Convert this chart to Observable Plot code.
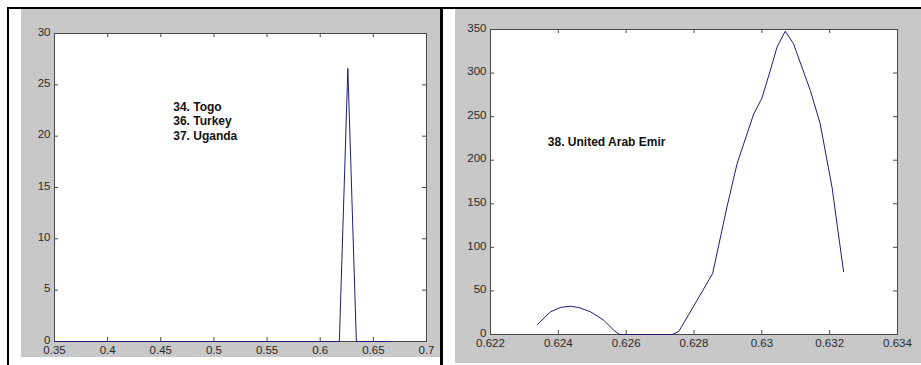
<!DOCTYPE html>
<html>
<head>
<meta charset="utf-8">
<script src="https://cdn.jsdelivr.net/npm/d3@7"></script>
<script src="https://cdn.jsdelivr.net/npm/@observablehq/plot@0.6"></script>
<style>
  html, body { margin: 0; padding: 0; background: #ffffff; }
  #page { position: relative; width: 921px; height: 365px; overflow: hidden; background: #ffffff; }
  .bar { position: absolute; background: #000000; }
  .panel { position: absolute; background: #c8c8c8; }
  .panel svg { display: block; background: #c8c8c8; }
</style>
</head>
<body>
<div id="page">
  <div class="bar" style="left:7px; top:7px; width:914px; height:2px;"></div>
  <div class="bar" style="left:7px; top:7px; width:2px; height:358px;"></div>
  <div class="bar" style="left:440px; top:7px; width:3px; height:358px;"></div>
  <div class="panel" id="left" style="left:21px; top:9px; width:419px; height:348px;"></div>
  <div class="panel" id="right" style="left:455px; top:9px; width:466px; height:354px;"></div>
</div>
<script>
// ---- Left panel data ----
const leftX = [0.35, 0.618, 0.626, 0.634, 0.666];
const leftY = [0, 0, 26.6, 0, 0];
const leftXTicks = [0.35, 0.4, 0.45, 0.5, 0.55, 0.6, 0.65, 0.7];
const leftXTickLabels = ["0.35", "0.4", "0.45", "0.5", "0.55", "0.6", "0.65", "0.7"];
const leftYTicks = [0, 5, 10, 15, 20, 25, 30];
const leftYTickLabels = ["0", "5", "10", "15", "20", "25", "30"];
const leftNotes = ["34. Togo", "36. Turkey", "37. Uganda"];
const leftNoteX = [0.4617, 0.4617, 0.4617];
const leftNoteY = [22.8, 21.43, 20.04];

// ---- Right panel data ----
const rightX = [0.62339, 0.62377, 0.62406, 0.62435, 0.62460, 0.62495, 0.62534, 0.62563, 0.62581,
                0.62736, 0.62755, 0.62799, 0.62855, 0.62897, 0.62927, 0.62976, 0.63000, 0.63025,
                0.63045, 0.63069, 0.63093, 0.63143, 0.63172, 0.63207, 0.63241];
const rightY = [11.8, 26, 31, 32.5, 31, 26, 16.4, 5, 0,
                0, 3.5, 32.5, 70, 146, 196, 253, 271, 303,
                330, 348, 334, 280, 242, 169, 72];
const rightXTicks = [0.622, 0.624, 0.626, 0.628, 0.630, 0.632, 0.634];
const rightXTickLabels = ["0.622", "0.624", "0.626", "0.628", "0.63", "0.632", "0.634"];
const rightYTicks = [0, 50, 100, 150, 200, 250, 300, 350];
const rightYTickLabels = ["0", "50", "100", "150", "200", "250", "300", "350"];
const rightNotes = ["38. United Arab Emir"];
const rightNoteX = [0.62369];
const rightNoteY = [220.7];

const LINE = "#1e1e72";
const FRAME = "#4a4a4a";
const TICKTEXT = "#2a2a2a";
const FONT = "'Liberation Sans', Arial, sans-serif";

function panel({xs, ys, xTicks, xLabels, yTicks, yLabels, xDomain, yDomain, notesText, notesX, notesY,
                width, height, mL, mR, mT, mB}) {
  const innerW = width - mL - mR;
  const innerH = height - mT - mB;
  const pts = xs.map((x, i) => ({x, y: ys[i]}));
  const notes = notesText.map((t, i) => ({t, x: notesX[i], y: notesY[i]}));
  const tick = 4;
  return Plot.plot({
    width, height,
    marginLeft: mL, marginRight: mR, marginTop: mT, marginBottom: mB,
    style: {background: "#c8c8c8", fontFamily: FONT, fontSize: "11.5px", color: TICKTEXT},
    x: {domain: xDomain, axis: null},
    y: {domain: yDomain, axis: null},
    marks: [
      Plot.frame({fill: "#ffffff", stroke: "none"}),
      // inward ticks: bottom & top
      Plot.tickX(xTicks, {x: d => d, stroke: FRAME, insetTop: innerH - tick}),
      Plot.tickX(xTicks, {x: d => d, stroke: FRAME, insetBottom: innerH - tick}),
      // inward ticks: left & right
      Plot.tickY(yTicks, {y: d => d, stroke: FRAME, insetRight: innerW - tick}),
      Plot.tickY(yTicks, {y: d => d, stroke: FRAME, insetLeft: innerW - tick}),
      Plot.frame({stroke: FRAME, fill: "none"}),
      Plot.axisX(xTicks, {anchor: "bottom", tickSize: 0, tickPadding: 4,
        tickFormat: d => xLabels[xTicks.indexOf(d)], fill: TICKTEXT, fontSize: 11.5, label: null}),
      Plot.axisY(yTicks, {anchor: "left", tickSize: 0, tickPadding: 4, dy: -1.5,
        tickFormat: d => yLabels[yTicks.indexOf(d)], fill: TICKTEXT, fontSize: 11.5, label: null}),
      Plot.line(pts, {x: "x", y: "y", stroke: LINE, strokeWidth: 1}),
      Plot.text(notes, {x: "x", y: "y", text: "t", textAnchor: "start", fill: "#111111",
        fontWeight: "bold", fontSize: 12, fontFamily: FONT})
    ]
  });
}

document.getElementById("left").append(panel({
  xs: leftX, ys: leftY, xTicks: leftXTicks, xLabels: leftXTickLabels,
  yTicks: leftYTicks, yLabels: leftYTickLabels, xDomain: [0.35, 0.7], yDomain: [0, 30],
  notesText: leftNotes, notesX: leftNoteX, notesY: leftNoteY,
  width: 419, height: 348, mL: 33, mR: 14, mT: 24, mB: 16
}));

document.getElementById("right").append(panel({
  xs: rightX, ys: rightY, xTicks: rightXTicks, xLabels: rightXTickLabels,
  yTicks: rightYTicks, yLabels: rightYTickLabels, xDomain: [0.622, 0.634], yDomain: [0, 350],
  notesText: rightNotes, notesX: rightNoteX, notesY: rightNoteY,
  width: 466, height: 354, mL: 35, mR: 24, mT: 20, mB: 29
}));
</script>
</body>
</html>
